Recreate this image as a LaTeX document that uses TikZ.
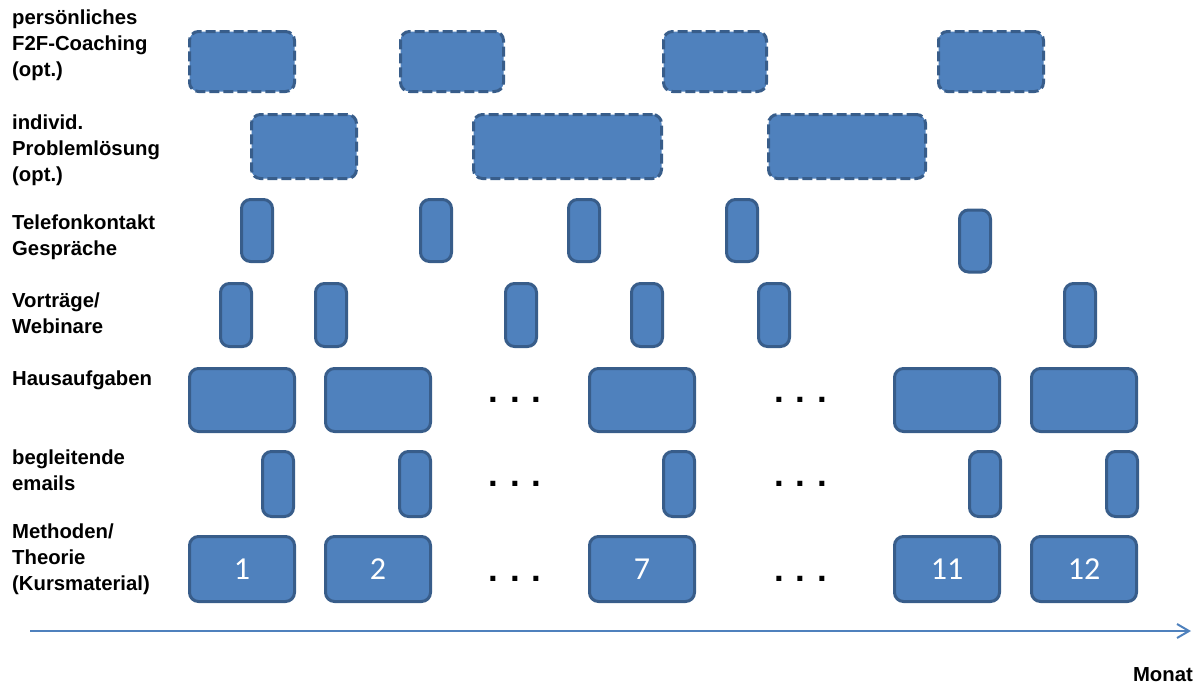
\documentclass[tikz,border=0pt]{standalone}
\usepackage{fontspec}
\setmainfont{Liberation Sans}
\newfontfamily\numfont{Carlito}
\usetikzlibrary{arrows.meta}
\definecolor{boxfill}{HTML}{4F81BD}
\definecolor{boxline}{HTML}{385D8A}
\tikzset{
  box/.style={draw=boxline, fill=boxfill, line width=3pt, rounded corners=9pt, inner sep=0pt},
  dbox/.style={box, dash pattern=on 10pt off 4pt},
  wide/.style={minimum width=105pt, minimum height=63pt},
  narrow/.style={minimum width=31pt, minimum height=63pt},
  rowlabel/.style={anchor=west, align=left, inner sep=0pt, font=\bfseries\fontsize{20.3}{26}\selectfont},
  num/.style={text=white, font=\numfont\fontsize{32}{36}\selectfont},
  dots/.style={anchor=base, inner sep=0pt, font=\bfseries\fontsize{35}{40}\selectfont}
}
\begin{document}
\begin{tikzpicture}[x=1pt,y=-1pt]
\useasboundingbox (0,0) rectangle (1203,686);
% labels
\node[rowlabel] (l1) at (12,45) {persönliches\\F2F-Coaching\\(opt.)};
\node[rowlabel] (l2) at (12,150) {individ.\\Problemlösung\\(opt.)};
\node[rowlabel] (l3) at (12,237) {Telefonkontakt\\Gespräche};
\node[rowlabel] (l4) at (12,313) {Vorträge/\\Webinare};
\node[rowlabel] (l5) at (12,380) {Hausaufgaben};
\node[rowlabel] (l6) at (12,470) {begleitende\\emails};
\node[rowlabel] (l7) at (12,559) {Methoden/\\Theorie\\(Kursmaterial)};
% row 1
\node[dbox, minimum width=105pt, minimum height=60pt] (a1) at (242,61.5) {};
\node[dbox, minimum width=103pt, minimum height=60pt] (a2) at (452,61.5) {};
\node[dbox, minimum width=103pt, minimum height=60pt] (a3) at (715,61.5) {};
\node[dbox, minimum width=105pt, minimum height=60pt] (a4) at (991,61.5) {};
% row 2
\node[dbox, minimum width=105pt, minimum height=64pt] (b1) at (304,146.5) {};
\node[dbox, minimum width=188pt, minimum height=64pt] (b2) at (567.5,146.5) {};
\node[dbox, minimum width=157pt, minimum height=64pt] (b3) at (847,146.5) {};
% row 3
\node[box, narrow, minimum height=62pt] (c1) at (257,230.5) {};
\node[box, narrow, minimum height=62pt] (c2) at (436,230.5) {};
\node[box, narrow, minimum height=62pt] (c3) at (584,230.5) {};
\node[box, narrow, minimum height=62pt] (c4) at (742,230.5) {};
\node[box, narrow, minimum height=62pt] (c5) at (975,241) {};
% row 4
\node[box, narrow] (d1) at (236,315) {};
\node[box, narrow] (d2) at (331,315) {};
\node[box, narrow] (d3) at (521,315) {};
\node[box, narrow] (d4) at (647,315) {};
\node[box, narrow] (d5) at (774,315) {};
\node[box, narrow] (d6) at (1080,315) {};
% row 5
\node[box, wide] (e1) at (242,400) {};
\node[box, wide] (e2) at (378,400) {};
\node[box, wide] (e3) at (642,400) {};
\node[box, wide] (e4) at (947,400) {};
\node[box, wide] (e5) at (1084,400) {};
\node[dots] (e6) at (515,402) {.\,\,.\,\,.};
\node[dots] (e7) at (800.5,402) {.\,\,.\,\,.};
% row 6
\node[box, narrow, minimum height=65pt] (f1) at (278,484) {};
\node[box, narrow, minimum height=65pt] (f2) at (415,484) {};
\node[box, narrow, minimum height=65pt] (f3) at (679,484) {};
\node[box, narrow, minimum height=65pt] (f4) at (985,484) {};
\node[box, narrow, minimum height=65pt] (f5) at (1122,484) {};
\node[dots] (f6) at (515,486) {.\,\,.\,\,.};
\node[dots] (f7) at (800.5,486) {.\,\,.\,\,.};
% row 7
\node[box, wide, minimum height=65pt, num] (g1) at (242,569) {1};
\node[box, wide, minimum height=65pt, num] (g2) at (378,569) {2};
\node[box, wide, minimum height=65pt, num] (g3) at (642,569) {7};
\node[box, wide, minimum height=65pt, num] (g4) at (947,569) {11};
\node[box, wide, minimum height=65pt, num] (g5) at (1084,569) {12};
\node[dots] (g6) at (515,581) {.\,\,.\,\,.};
\node[dots] (g7) at (800.5,581) {.\,\,.\,\,.};
% time axis
\coordinate (t0) at (30,631);
\coordinate (t1) at (1191,631);
\draw[boxfill, line width=2pt, -{Straight Barb[length=12pt,width=14pt,line width=2pt]}] (t0) -- (t1);
\node[anchor=east, inner sep=0pt, font=\bfseries\fontsize{20.3}{26}\selectfont] (m) at (1193,675) {Monat};
\end{tikzpicture}
\end{document}
